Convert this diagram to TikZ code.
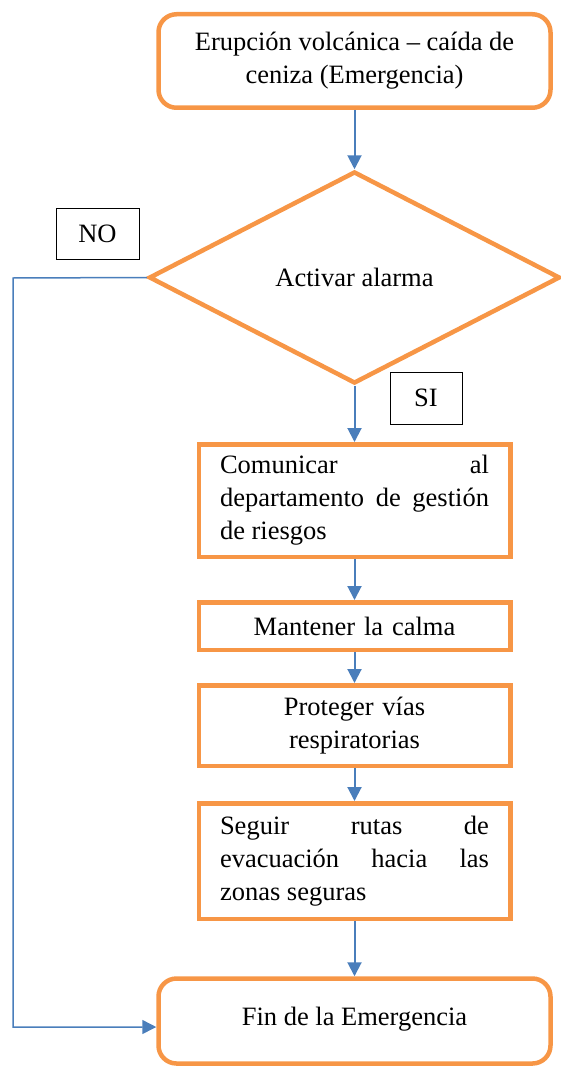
\documentclass[tikz,border=0pt]{standalone}
\usepackage{fontspec}
\setmainfont{Liberation Serif}
\usepackage{xcolor}
\usetikzlibrary{shapes.geometric, arrows.meta, positioning}

\definecolor{boxorange}{HTML}{F79646}
\definecolor{lineblue}{HTML}{4A7EBB}

\begin{document}
\begin{tikzpicture}[x=1pt, y=-1pt,
    font=\fontsize{26.5}{33}\selectfont,
    endbox/.style={draw=boxorange, line width=4.5pt, rounded corners=18pt, align=center},
    stepbox/.style={draw=boxorange, line width=4.5pt, text width=269pt, inner xsep=21.25pt, inner ysep=0pt},
    decision/.style={draw=boxorange, line width=4.5pt, diamond, inner sep=0pt},
    answer/.style={draw=black, line width=0.8pt, inner sep=0pt},
    flow/.style={draw=lineblue, line width=2pt, -{Triangle[width=14pt,length=14pt]}}]
            \useasboundingbox (0,0) rectangle (560,1070);

          \node[endbox, minimum width=392pt, minimum height=93.5pt] (Start) at (354.5,61)
              {Erupción volcánica – caída de\\ceniza (Emergencia)};

          \node[decision, minimum width=411pt, minimum height=212pt] (Alarm) at (354.5,277.5) {Activar alarma};

          \node[answer, minimum width=83pt, minimum height=51pt] (No) at (97.5,233.5) {NO};
          \node[answer, minimum width=72pt, minimum height=52pt] (Yes) at (426,398) {SI};

          \node[stepbox, align=justify, minimum height=112.5pt] (Notify) at (354.5,500.5)
              {Comunicar al\linebreak departamento de gestión\linebreak de riesgos};
          \node[stepbox, align=center, minimum height=47.5pt] (Calm) at (354.5,626) {Mantener la calma};
          \node[stepbox, align=center, minimum height=80.5pt] (Protect) at (354.5,725.5)
              {Proteger vías\\respiratorias};
          \node[stepbox, align=justify, minimum height=115.5pt] (Evacuate) at (354.5,861)
              {Seguir rutas de\linebreak evacuación hacia las\linebreak zonas seguras};

          \node[endbox, minimum width=392pt, minimum height=85pt, text depth=10pt] (End) at (354.5,1021)
              {Fin de la Emergencia};

          \coordinate (NoTurn) at (13,278);

          \draw[flow] (Start.south) -- (Alarm.north);
          \draw[flow] (Alarm.south) -- (Notify.north);
          \draw[flow] (Notify.south) -- (Calm.north);
          \draw[flow] (Calm.south) -- (Protect.north);
          \draw[flow] (Protect.south) -- (Evacuate.north);
          \draw[flow] (Evacuate.south) -- (End.north);

          % NO branch goes round to the end
          \draw[flow, line width=1.5pt] (Alarm.west) -- (NoTurn) |- ([yshift=-6pt]End.west);

        \end{tikzpicture}
\end{document}
